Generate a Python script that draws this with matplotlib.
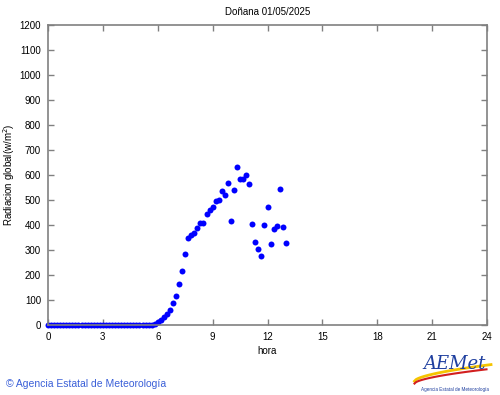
import numpy as np
import matplotlib
matplotlib.use("Agg")
import matplotlib.pyplot as plt

plt.rcParams['font.family'] = ['Liberation Sans', 'DejaVu Sans']

# minutes after midnight, 10-min readings
minutes = [0, 10, 20, 30, 40, 50, 60, 70, 80, 90, 100, 110, 120, 130, 140, 150,
           160, 170, 180, 190, 200, 210, 220, 230, 240, 250, 260, 270, 280, 290,
           300, 310, 320, 330, 340, 350, 360, 370, 380, 390, 400, 410, 420, 430,
           440, 450, 460, 470, 480, 490, 500, 510, 520, 530, 540, 550, 560, 570,
           580, 590, 600, 610, 620, 630, 640, 650, 660, 670, 680, 690, 700, 710,
           720, 730, 740, 750, 760, 770, 780]
radiacion = [0, 0, 0, 0, 0, 0, 0, 0, 0, 0, 0, 0, 0, 0, 0, 0,
             0, 0, 0, 0, 0, 0, 0, 0, 0, 0, 0, 0, 0, 0,
             0, 0, 0, 0, 2, 5, 12, 22, 31, 44, 62, 90, 117, 163,
             218, 285, 347, 362, 370, 390, 409, 409, 446, 462, 474, 498, 502, 534,
             518, 566, 418, 541, 631, 584, 585, 600, 563, 403, 332, 303, 277, 399,
             472, 324, 384, 397, 544, 393, 327]

xticks = [0, 3, 6, 9, 12, 15, 18, 21, 24]
yticks = list(range(0, 1300, 100))

hours = np.array(minutes) / 60.0

fig = plt.figure(figsize=(5.0, 3.95), dpi=100)
ax = fig.add_axes([0.096, 0.177, 0.878, 0.760])

ax.plot(hours, radiacion, 'o', color='#0000ff', ms=4.3, mec='none', clip_on=False)

ax.set_xlim(0, 24)
ax.set_ylim(0, 1200)
ax.set_xticks(xticks)
ax.set_yticks(yticks)
ax.tick_params(direction='in', length=4, width=1, color='#808080',
               labelsize=7, top=True, right=True, pad=5)
for s in ax.spines.values():
    s.set_color('#808080')
    s.set_linewidth(1.2)

ax.set_xlabel('hora', fontsize=7, labelpad=3)
fig.text(0.018, 0.557, 'Radiacion global(w/m$^2$)', fontsize=7, rotation=90,
         ha='center', va='center')
fig.text(0.535, 0.97, 'Doñana 01/05/2025', fontsize=7, ha='center', va='center')

# footer
fig.text(0.012, 0.027, '© Agencia Estatal de Meteorología', fontsize=7.5,
         color='#3a5fd8', ha='left', va='center')

# AEMet logo (approximation)
lx = fig.add_axes([0.82, 0.005, 0.18, 0.12])
lx.set_xlim(0, 1)
lx.set_ylim(0, 1)
lx.axis('off')
t = np.linspace(0, 1, 50)
lx.plot(0.05 + 0.85 * t, 0.25 + 0.35 * t ** 0.6, color='#f5c400', lw=2)
lx.plot(0.05 + 0.8 * t, 0.20 + 0.3 * t ** 0.6, color='#d21f1f', lw=1.5)
lx.text(0.5, 0.62, 'AEMet', fontsize=13, color='#1f3f9f', style='italic',
        ha='center', va='center', family='DejaVu Serif')
lx.text(0.5, 0.08, 'Agencia Estatal de Meteorología', fontsize=3.3,
        color='#1f3f9f', ha='center', va='center')

fig.savefig('out.png', dpi=100)
